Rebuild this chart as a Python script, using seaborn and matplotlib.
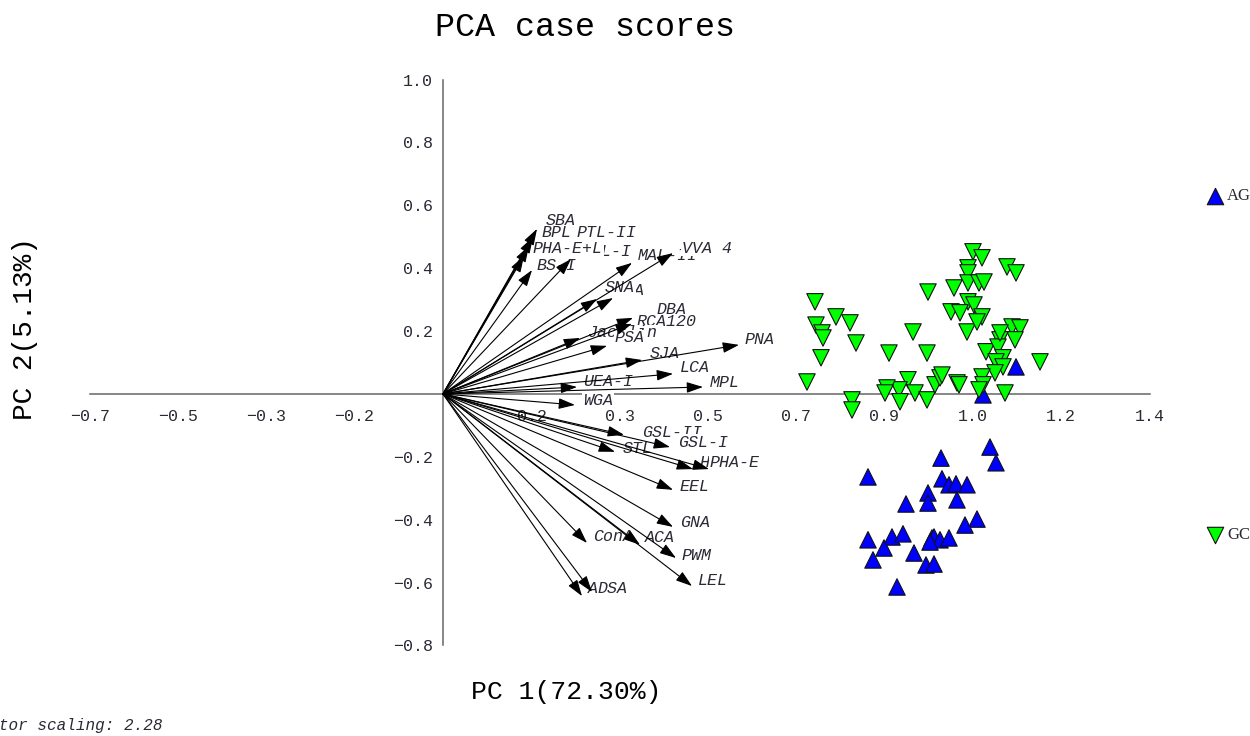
import numpy as np
import matplotlib.pyplot as plt
import pandas as pd
import seaborn as sns

# case scores, group AG
ag_x = [0.850, 0.996, 1.094, 1.106, 0.998, 1.012, 1.026, 1.048, 1.028, 0.970,
        0.970, 0.926, 1.068, 1.044, 0.850, 0.898, 0.920, 0.882, 0.860, 0.942,
        0.966, 0.982, 0.978, 0.982, 0.994, 1.012, 0.908, 0.974, 1.146, 1.080]
ag_y = [-0.264, -0.204, -0.169, -0.219, -0.270, -0.289, -0.286, -0.289, -0.337, -0.315,
        -0.347, -0.350, -0.398, -0.417, -0.464, -0.455, -0.445, -0.490, -0.528, -0.506,
        -0.544, -0.541, -0.458, -0.455, -0.464, -0.458, -0.614, -0.471, 0.086, -0.003]

# case scores, group GC
gc_x = [0.744, 0.786, 0.814, 0.746, 0.758, 0.760, 0.826, 0.756, 0.728, 0.818,
        0.818, 0.940, 0.970, 0.892, 0.968, 1.060, 1.078, 1.050, 1.050, 1.022,
        1.050, 1.072, 1.082, 1.128, 1.146, 1.050, 1.016, 1.034, 1.062, 1.078,
        1.048, 1.068, 1.138, 1.154, 1.144, 1.114, 1.086, 1.110, 1.120, 1.106,
        1.120, 1.194, 1.104, 1.078, 1.080, 1.072, 1.124, 0.930, 0.912, 0.888,
        0.884, 0.944, 0.968, 0.914, 0.984, 0.994, 0.998, 1.028, 1.032, 1.114]
gc_y = [0.293, 0.245, 0.226, 0.219, 0.194, 0.178, 0.162, 0.115, 0.038, -0.019,
        -0.051, 0.197, 0.324, 0.130, 0.130, 0.452, 0.433, 0.401, 0.385, 0.337,
        0.353, 0.353, 0.356, 0.404, 0.385, 0.293, 0.261, 0.258, 0.283, 0.245,
        0.197, 0.229, 0.213, 0.210, 0.172, 0.172, 0.134, 0.149, 0.115, 0.102,
        0.086, 0.102, 0.067, 0.054, 0.029, 0.013, 0.003, 0.045, 0.013, 0.019,
        0.003, 0.003, -0.019, -0.025, 0.029, 0.051, 0.060, 0.035, 0.029, 0.194]

# variable vectors (arrow tips) and label anchors, in draw order
var_names = ["SBA", "BPL", "PTL-II", "PTL-I", "PHA-E+L", "BS-I", "MAL-II", "VVA 4",
             "NPA", "SNA", "DBA", "RCA120", "Jacalin", "PSA", "PNA", "SJA", "LCA",
             "UEA-I", "MPL", "WGA", "GSL-II", "STL", "GSL-I", "HHL", "PHA-E", "EEL",
             "GNA", "ConA", "ACA", "PWM", "LEL", "AAL", "DSA"]
var_x = [0.188, 0.180, 0.172, 0.256, 0.162, 0.178, 0.378, 0.460,
         0.340, 0.308, 0.380, 0.378, 0.274, 0.328, 0.592, 0.398, 0.460,
         0.268, 0.520, 0.264, 0.362, 0.344, 0.454, 0.500, 0.532, 0.460,
         0.460, 0.288, 0.394, 0.466, 0.498, 0.278, 0.298]
var_y = [0.525, 0.499, 0.471, 0.429, 0.439, 0.394, 0.417, 0.448,
         0.305, 0.302, 0.242, 0.223, 0.178, 0.153, 0.156, 0.108, 0.064,
         0.022, 0.022, -0.035, -0.130, -0.184, -0.169, -0.239, -0.239, -0.305,
         -0.423, -0.474, -0.480, -0.522, -0.611, -0.643, -0.630]
lab_x = [0.206, 0.198, 0.268, 0.278, 0.180, 0.188, 0.390, 0.478,
         0.344, 0.324, 0.428, 0.388, 0.290, 0.344, 0.604, 0.414, 0.474,
         0.280, 0.534, 0.280, 0.398, 0.360, 0.470, 0.514, 0.534, 0.474,
         0.474, 0.300, 0.404, 0.478, 0.510, 0.290, 0.310]
lab_y = [0.553, 0.512, 0.515, 0.452, 0.464, 0.410, 0.439, 0.464,
         0.328, 0.337, 0.267, 0.229, 0.194, 0.178, 0.172, 0.130, 0.083,
         0.041, 0.035, -0.022, -0.124, -0.172, -0.153, -0.219, -0.219, -0.296,
         -0.410, -0.452, -0.458, -0.515, -0.592, -0.620, -0.620]

xtick_pos = [-0.706, -0.530, -0.353, -0.177, 0.177, 0.353, 0.530, 0.706, 0.883, 1.060, 1.236, 1.413]
xtick_lab = ["-0.7", "-0.5", "-0.3", "-0.2", "0.2", "0.3", "0.5", "0.7", "0.9", "1.0", "1.2", "1.4"]
ytick_pos = [-0.8, -0.6, -0.4, -0.2, 0.2, 0.4, 0.6, 0.8, 1.0]
ytick_lab = ["-0.8", "-0.6", "-0.4", "-0.2", "0.2", "0.4", "0.6", "0.8", "1.0"]

df = pd.DataFrame({
    "PC1": ag_x + gc_x,
    "PC2": ag_y + gc_y,
    "group": ["AG"] * len(ag_x) + ["GC"] * len(gc_x),
})

sns.set_style("white")
plt.rcParams["font.family"] = ["Liberation Mono", "DejaVu Sans Mono"]
txt = "#2a2a35"

fig = plt.figure(figsize=(12.5, 7.36), dpi=100)
ax = fig.add_axes([0, 0, 1, 1])
ax.set_xlim(-0.886, 1.614)
ax.set_ylim(-1.088, 1.253)
ax.patch.set_alpha(0)

for s in ["top", "right"]:
    ax.spines[s].set_visible(False)
ax.spines["bottom"].set_position(("data", 0))
ax.spines["left"].set_position(("data", 0))
ax.spines["bottom"].set_bounds(-0.706, 1.413)
ax.spines["left"].set_bounds(-0.8, 1.0)
for s in ["bottom", "left"]:
    ax.spines[s].set_color("#666666")
    ax.spines[s].set_linewidth(1.1)

ax.set_xticks(xtick_pos)
ax.set_xticklabels([t.replace("-", "\u2212") for t in xtick_lab])
ax.set_yticks(ytick_pos)
ax.set_yticklabels([t.replace("-", "\u2212") for t in ytick_lab])
ax.tick_params(axis="x", direction="inout", length=16, width=1, color="#333333",
               labelsize=12, labelcolor=txt, pad=3)
ax.tick_params(axis="y", direction="inout", length=13, width=1, color="#333333",
               labelsize=12, labelcolor=txt, pad=0.5)

# variable labels with white boxes, then vectors on top
for name, lx, ly in zip(var_names, lab_x, lab_y):
    ax.text(lx, ly, name, fontsize=12, style="italic", color=txt, ha="left", va="center",
            zorder=3, bbox=dict(boxstyle="square,pad=0.05", fc="white", ec="none"))
for vx, vy in zip(var_x, var_y):
    ax.annotate("", xy=(vx, vy), xytext=(0, 0), zorder=4,
                arrowprops=dict(arrowstyle="-|>,head_length=1.0,head_width=0.33",
                                mutation_scale=10, color="black", lw=0.8,
                                shrinkA=0, shrinkB=0))

sns.scatterplot(data=df, x="PC1", y="PC2", hue="group", style="group",
                markers={"AG": "^", "GC": "v"},
                palette={"AG": "#0000ff", "GC": "#00ff00"},
                s=140, edgecolor="#111111", linewidth=0.8, legend=False,
                ax=ax, zorder=5)
ax.set_xlabel("")
ax.set_ylabel("")

# group key on the right
ax.scatter([0.9720], [0.7337], marker="^", s=140, c="#0000ff", edgecolors="#111111",
           linewidths=0.8, transform=fig.transFigure, clip_on=False)
ax.scatter([0.9720], [0.2731], marker="v", s=140, c="#00ff00", edgecolors="#111111",
           linewidths=0.8, transform=fig.transFigure, clip_on=False)
fig.text(0.9815, 0.7337, "AG", fontsize=12, family="Liberation Serif", color=txt, va="center")
fig.text(0.9815, 0.2731, "GC", fontsize=12, family="Liberation Serif", color=txt, va="center")

fig.text(0.468, 0.962, "PCA case scores", fontsize=24, color="black", ha="center", va="center")
fig.text(0.453, 0.060, "PC 1(72.30%)", fontsize=19, color="black", ha="center", va="center")
fig.text(0.020, 0.554, "PC 2(5.13%)", fontsize=20, color="black", ha="center", va="center",
         rotation=90)
fig.text(0.130, 0.0136, "Vector scaling: 2.28", fontsize=11.5, style="italic", color=txt,
         ha="right", va="center")

fig.savefig("out.png", dpi=100)
